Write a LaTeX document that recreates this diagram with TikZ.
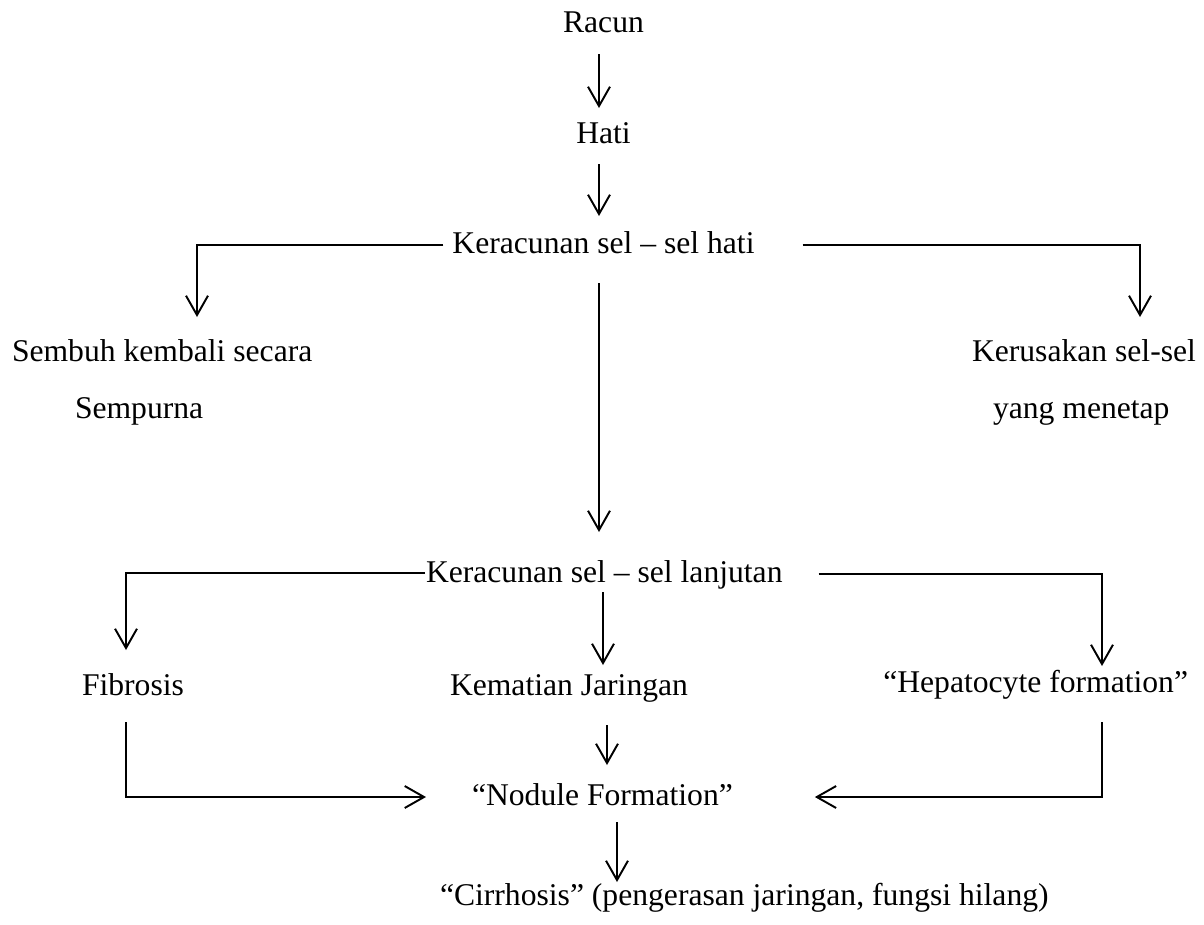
\documentclass[tikz,border=0pt]{standalone}
\usepackage{fontspec}
\setmainfont{Liberation Serif}
\usetikzlibrary{arrows.meta,calc}
\begin{document}
\begin{tikzpicture}[x=0.02cm,y=-0.02cm,
  lbl/.style={inner sep=0pt, outer sep=0pt, font=\fontsize{18pt}{22pt}\selectfont},
  conn/.style={line width=1.1pt},
  arr/.style={conn,-{Straight Barb[length=11pt,width=12.5pt]}}]
\useasboundingbox (0,0) rectangle (1204,924);
% nodes
\node[lbl,anchor=base] (racun) at (603.5,32) {Racun};
\node[lbl,anchor=base] (hati) at (603.5,143) {Hati};
\node[lbl,anchor=base] (ker1) at (603.5,253) {Keracunan sel – sel hati};
\node[lbl,anchor=base west] (sembuh) at (12,361) {Sembuh kembali secara};
\node[lbl,anchor=base west] (sempurna) at (75,418) {Sempurna};
\node[lbl,anchor=base west] (kerusakan) at (972,361) {Kerusakan sel-sel};
\node[lbl,anchor=base west] (menetap) at (993,418) {yang menetap};
\node[lbl,anchor=base west] (ker2) at (426,582) {Keracunan sel – sel lanjutan};
\node[lbl,anchor=base west] (fibrosis) at (82,695) {Fibrosis};
\node[lbl,anchor=base west] (kematian) at (450,695) {Kematian Jaringan};
\node[lbl,anchor=base east] (hepato) at (1188,692) {“Hepatocyte formation”};
\node[lbl,anchor=base west] (nodule) at (472,805) {“Nodule Formation”};
\node[lbl,anchor=base west] (cirr) at (440,905) {“Cirrhosis” (pengerasan jaringan, fungsi hilang)};
% connectors
\draw[arr] ($(racun.base)+(-4.5,22)$) -- ($(hati.base)+(-4.5,-35)$);
\draw[arr] ($(hati.base)+(-4.5,21)$) -- ($(ker1.base)+(-4.5,-37)$);
\draw[arr] ($(ker1.base west)+(-9,-8)$) -| ($(sembuh.base west)+(185,-44)$);
\draw[arr] ($(ker1.base east)+(48,-8)$) -| ($(kerusakan.base west)+(168,-44)$);
\draw[arr] ($(ker1.base)+(-4.5,30)$) -- ($(ker2.base west)+(173,-50)$);
\draw[arr] ($(ker2.base west)+(-1,-9)$) -| ($(fibrosis.base west)+(44,-45)$);
\draw[arr] ($(ker2.base west)+(177,10)$) -- ($(kematian.base west)+(153,-30)$);
\draw[arr] ($(ker2.base east)+(36,-8)$) -| ($(hepato.base east)+(-86,-26)$);
\draw[arr] ($(fibrosis.base west)+(44,27)$) |- ($(nodule.base west)+(-46,-8)$);
\draw[arr] ($(kematian.base west)+(157,30)$) -- ($(nodule.base west)+(135,-40)$);
\draw[arr] ($(hepato.base east)+(-86,30)$) |- ($(nodule.base east)+(82,-8)$);
\draw[arr] ($(nodule.base west)+(145,17)$) -- ($(cirr.base west)+(177,-23)$);
\end{tikzpicture}
\end{document}
